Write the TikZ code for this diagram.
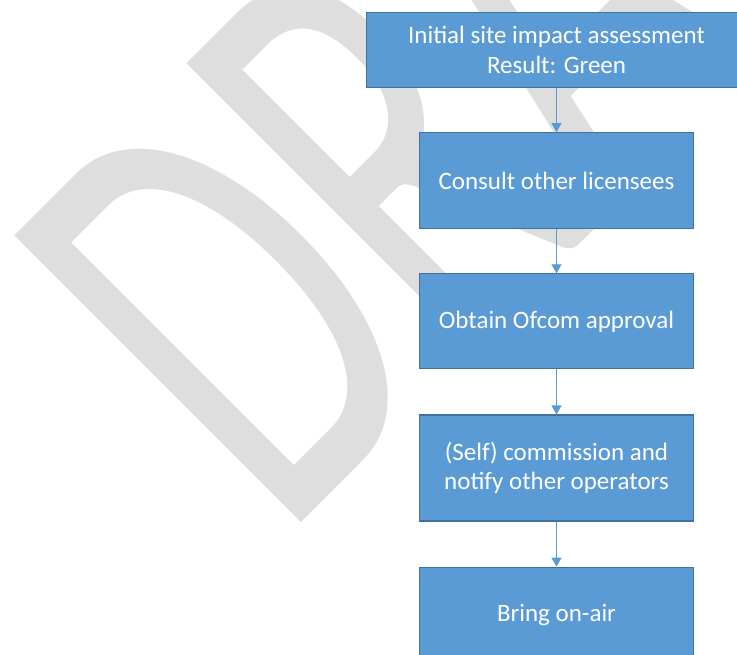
\documentclass[tikz,border=0pt]{standalone}
\usepackage{fontspec}
\setmainfont{Carlito}
\usetikzlibrary{arrows.meta,positioning}
\definecolor{boxblue}{HTML}{5B9BD5}
\definecolor{boxline}{HTML}{41719C}
\definecolor{wmgray}{HTML}{DEDEDE}

\begin{document}
\begin{tikzpicture}[x=1pt,y=1pt,
      stepbox/.style={
        draw=boxline, line width=1.2pt, fill=boxblue, text=white,
        minimum width=274pt, minimum height=95pt, align=center,
        inner sep=4pt, font=\fontsize{25}{29.5}\selectfont
      },
      flow/.style={
        draw=boxblue, line width=1pt, -{Triangle[width=10pt,length=9pt]}
      }
    ]
    \useasboundingbox (0,0) rectangle (737,654);
    \clip (0,0) rectangle (737,654);
    % watermark behind the chart
    \begin{scope}[shift={(282,112)}, rotate=45, yscale=1.60]
      \node [anchor=base west, inner sep=0pt, text=wmgray, transform shape,
        font=\fontsize{395}{395}\selectfont] (wm) at (0,0) {DRAFT};
    \end{scope}
    % the steps
    \node [stepbox, minimum width=380pt, minimum height=75pt] (assess) at (556.5,604)
      {Initial site impact assessment\\Result: Green};
    \node [stepbox, minimum height=95.5pt, below=44pt of assess] (consult) {Consult other licensees};
    \node [stepbox, below=44.5pt of consult] (ofcom) {Obtain Ofcom approval};
    \node [stepbox, minimum height=106pt, below=45pt of ofcom] (commission)
      {(Self) commission and\\notify other operators};
    \node [stepbox, below=45pt of commission] (onair) {Bring on-air};
    \draw [flow] (assess) -- (consult);
    \draw [flow] (consult) -- (ofcom);
    \draw [flow] (ofcom) -- (commission);
    \draw [flow] (commission) -- (onair);
  \end{tikzpicture}
\end{document}
